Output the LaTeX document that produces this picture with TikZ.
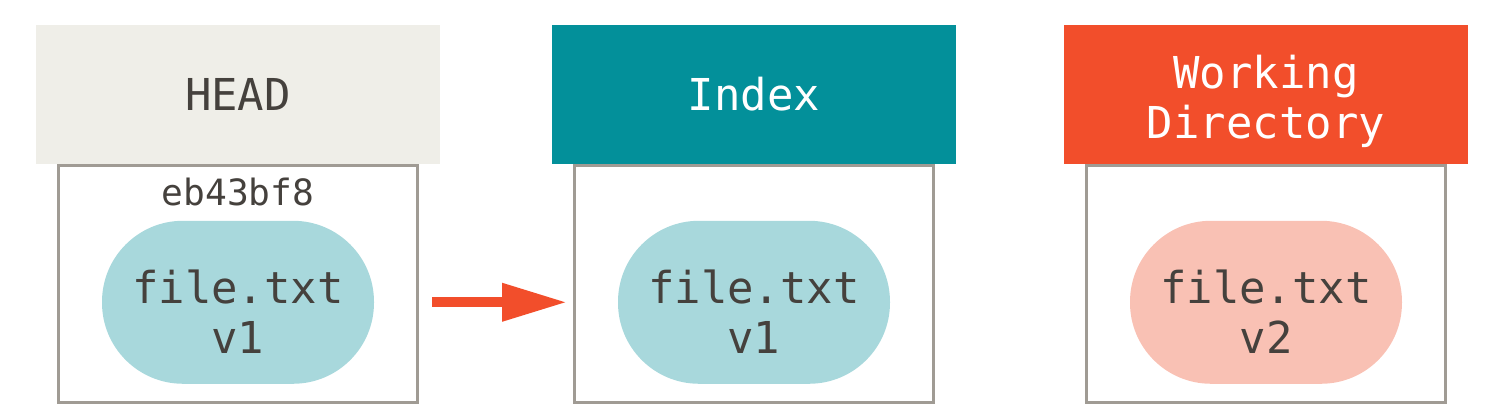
\documentclass[tikz,border=0pt]{standalone}
\usepackage{fontspec}
\setmonofont{DejaVu Sans Mono}
\usetikzlibrary{positioning,arrows.meta}
\definecolor{framegray}{HTML}{A09B94}
\definecolor{headfill}{HTML}{EFEEE8}
\definecolor{indexfill}{HTML}{03909A}
\definecolor{workfill}{HTML}{F24E2B}
\definecolor{bluefile}{HTML}{A8D8DC}
\definecolor{redfile}{HTML}{F9C1B4}
\definecolor{textgray}{HTML}{45413D}
\newcommand{\toppad}[1]{\rule{0pt}{#1}}
\tikzset{
  area/.style={draw=framegray,line width=0.3mm,minimum width=3.59cm,minimum height=2.37cm,inner sep=0},
  titlebox/.style={minimum width=4.04cm,minimum height=1.39cm,inner sep=0,align=center,
    font=\ttfamily\fontsize{12.5pt}{14.2pt}\selectfont},
  filebox/.style={rounded corners=8.1mm,minimum width=2.72cm,minimum height=1.63cm,inner sep=0,
    align=center,text=textgray,font=\ttfamily\fontsize{12.5pt}{14.2pt}\selectfont},
  move/.style={draw=workfill,line width=1mm,-{Triangle[length=6.5mm,width=3.6mm]}}
}
\begin{document}
\begin{tikzpicture}
\useasboundingbox (0,0) rectangle (14.97,4.2);
\node[area] (headbox) at (2.38,1.355) {};
\node[area,right=1.54cm of headbox] (indexbox) {};
\node[area,right=1.50cm of indexbox] (workbox) {};

\node[titlebox,fill=headfill,text=textgray,above=0pt of headbox] (head) {HEAD};
\node[titlebox,fill=indexfill,text=white,above=0pt of indexbox] (index) {Index};
\node[titlebox,fill=workfill,text=white,text depth=0pt,above=0pt of workbox] (work) {\toppad{3.9mm}Working\\Directory};

\node[inner sep=0,text=textgray,font=\ttfamily\fontsize{10.3pt}{12pt}\selectfont,below=1.3mm of headbox.north] (sha) {eb43bf8};

\node[filebox,fill=bluefile,above=2mm of headbox.south] (headfile) {\toppad{5.3mm}file.txt\\v1};
\node[filebox,fill=bluefile,above=2mm of indexbox.south] (indexfile) {\toppad{5.3mm}file.txt\\v1};
\node[filebox,fill=redfile,above=2mm of workbox.south] (workfile) {\toppad{5.3mm}file.txt\\v2};

\draw[move,shorten <=1.3mm,shorten >=0.6mm] (headbox.east |- headfile.center) -- (indexbox.west |- indexfile.center);
\end{tikzpicture}
\end{document}
